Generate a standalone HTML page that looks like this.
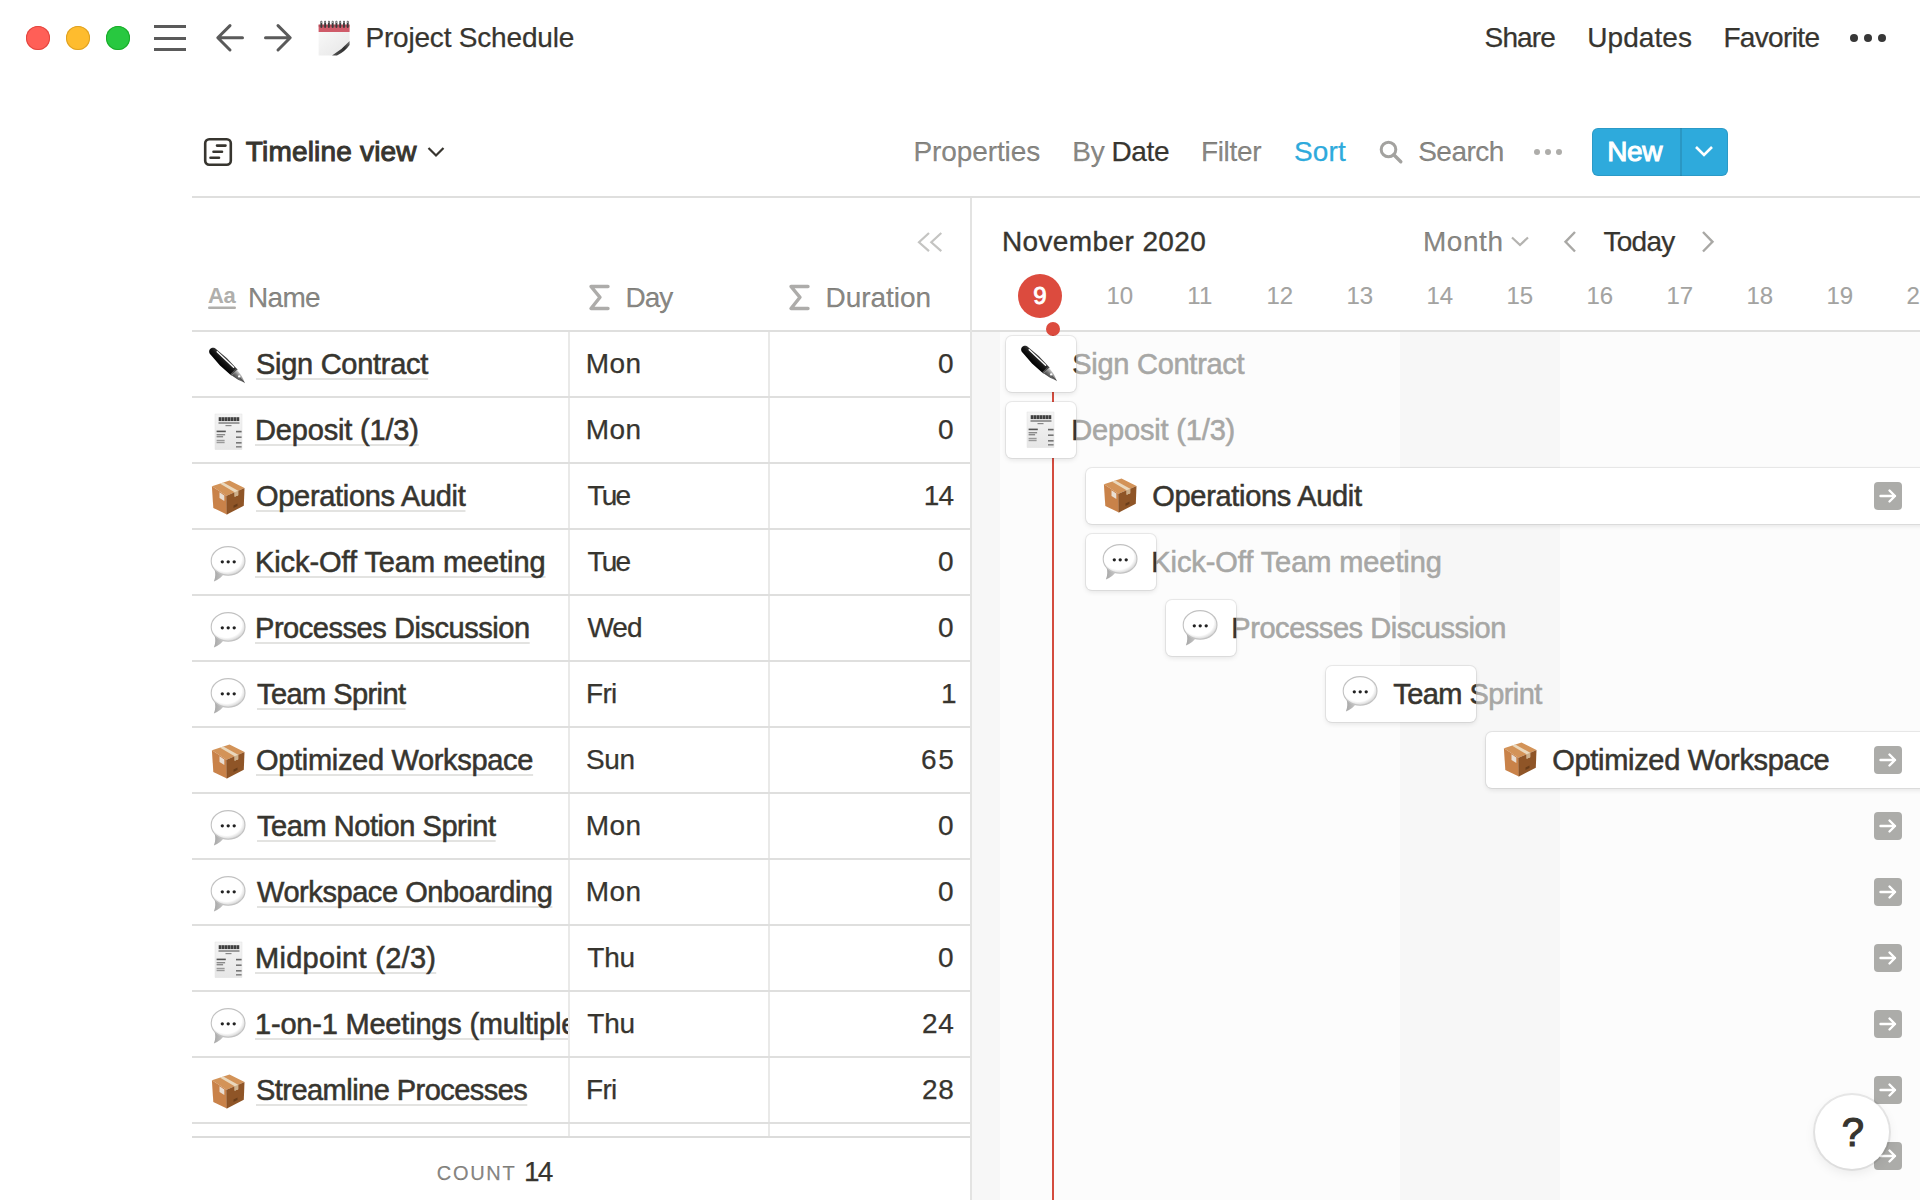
<!DOCTYPE html>
<html><head><meta charset="utf-8"><title>Project Schedule</title>
<style>
html,body{margin:0;padding:0;background:#fff;}
body{width:1920px;height:1200px;overflow:hidden;position:relative;font-family:"Liberation Sans",Arial,sans-serif;color:#37352f;}
.t{position:absolute;white-space:nowrap;-webkit-text-stroke:0.25px currentColor;}
.nm{-webkit-text-stroke:0.55px #37352f;text-decoration:underline;text-decoration-color:#e3e3e1;text-decoration-thickness:2px;text-underline-offset:4px;text-decoration-skip-ink:none;}
.md{-webkit-text-stroke:0.55px currentColor;}
.card{position:absolute;background:#fff;border-radius:6px;overflow:hidden;box-shadow:0 0 0 1px rgba(15,15,15,0.07),0 2px 5px rgba(15,15,15,0.10);}
</style></head><body>
<div style="position:absolute;left:26px;top:26px;width:24px;height:24px;border-radius:50%;background:#ff5f57;box-shadow:inset 0 0 0 1px #e2463f"></div>
<div style="position:absolute;left:66px;top:26px;width:24px;height:24px;border-radius:50%;background:#febc2e;box-shadow:inset 0 0 0 1px #dea123"></div>
<div style="position:absolute;left:106px;top:26px;width:24px;height:24px;border-radius:50%;background:#28c840;box-shadow:inset 0 0 0 1px #1aab29"></div>
<div style="position:absolute;left:154px;top:25px;width:32px;height:3px;background:#5a5a5a"></div>
<div style="position:absolute;left:154px;top:36.5px;width:32px;height:3px;background:#5a5a5a"></div>
<div style="position:absolute;left:154px;top:48px;width:32px;height:3px;background:#5a5a5a"></div>
<svg style="position:absolute;left:214px;top:22px;" width="32" height="32" viewBox="0 0 32 32"><path d="M28.5 15.8 H4.5 M16 3.6 L3.8 15.8 L16 28" fill="none" stroke="#5a5a5a" stroke-width="3" stroke-linecap="round" stroke-linejoin="round"/></svg>
<svg style="position:absolute;left:262px;top:22px;" width="32" height="32" viewBox="0 0 32 32"><path d="M3.5 15.8 H27.5 M16 3.6 L28.2 15.8 L16 28" fill="none" stroke="#5a5a5a" stroke-width="3" stroke-linecap="round" stroke-linejoin="round"/></svg>
<svg style="position:absolute;left:318px;top:20px;" width="33" height="36" viewBox="0 0 33 36"><defs><linearGradient id="cpg" x1="0" y1="0" x2="1" y2="1"><stop offset="0" stop-color="#f8f8f8"/><stop offset="1" stop-color="#e6e6e6"/></linearGradient><linearGradient id="ccg" x1="0" y1="1" x2="1" y2="0"><stop offset="0" stop-color="#555"/><stop offset="0.6" stop-color="#2e2e2e"/><stop offset="1" stop-color="#777"/></linearGradient></defs><path d="M0.6 12 H31.6 V21 Q24 29.5 14 35.6 H0.6 Z" fill="url(#cpg)"/><path d="M14 35.6 Q24 29.5 31.6 21 L31.6 25 Q27 31.5 19 35.6 Z" fill="url(#ccg)"/><rect x="0.6" y="4.6" width="31" height="7.4" fill="#cf5b69"/><rect x="0.6" y="4.6" width="31" height="2.2" fill="#9e3f4a" opacity="0.55"/><rect x="2.40" y="0.8" width="1.9" height="7.2" rx="0.9" fill="#3c3c3c"/><rect x="2.80" y="1.3" width="1.0" height="1.6" rx="0.5" fill="#bbb"/><rect x="6.17" y="0.8" width="1.9" height="7.2" rx="0.9" fill="#3c3c3c"/><rect x="6.57" y="1.3" width="1.0" height="1.6" rx="0.5" fill="#bbb"/><rect x="9.94" y="0.8" width="1.9" height="7.2" rx="0.9" fill="#3c3c3c"/><rect x="10.34" y="1.3" width="1.0" height="1.6" rx="0.5" fill="#bbb"/><rect x="13.71" y="0.8" width="1.9" height="7.2" rx="0.9" fill="#3c3c3c"/><rect x="14.11" y="1.3" width="1.0" height="1.6" rx="0.5" fill="#bbb"/><rect x="17.48" y="0.8" width="1.9" height="7.2" rx="0.9" fill="#3c3c3c"/><rect x="17.88" y="1.3" width="1.0" height="1.6" rx="0.5" fill="#bbb"/><rect x="21.25" y="0.8" width="1.9" height="7.2" rx="0.9" fill="#3c3c3c"/><rect x="21.65" y="1.3" width="1.0" height="1.6" rx="0.5" fill="#bbb"/><rect x="25.02" y="0.8" width="1.9" height="7.2" rx="0.9" fill="#3c3c3c"/><rect x="25.42" y="1.3" width="1.0" height="1.6" rx="0.5" fill="#bbb"/><rect x="28.79" y="0.8" width="1.9" height="7.2" rx="0.9" fill="#3c3c3c"/><rect x="29.19" y="1.3" width="1.0" height="1.6" rx="0.5" fill="#bbb"/></svg>
<div class="t " style="left:365.40px;top:24.20px;font-size:28px;line-height:28px;color:#37352f;font-weight:400;letter-spacing:-0.187px;">Project Schedule</div>
<div class="t " style="left:1484.60px;top:24.20px;font-size:28px;line-height:28px;color:#37352f;font-weight:400;letter-spacing:-0.861px;">Share</div>
<div class="t " style="left:1587.20px;top:24.20px;font-size:28px;line-height:28px;color:#37352f;font-weight:400;letter-spacing:0.085px;">Updates</div>
<div class="t " style="left:1723.40px;top:24.20px;font-size:28px;line-height:28px;color:#37352f;font-weight:400;letter-spacing:-0.653px;">Favorite</div>
<div style="position:absolute;left:1850.1px;top:33.5px;width:8.4px;height:8.4px;border-radius:50%;background:#373737"></div>
<div style="position:absolute;left:1863.8px;top:33.5px;width:8.4px;height:8.4px;border-radius:50%;background:#373737"></div>
<div style="position:absolute;left:1877.7px;top:33.5px;width:8.4px;height:8.4px;border-radius:50%;background:#373737"></div>
<svg style="position:absolute;left:203px;top:137px;" width="30" height="30" viewBox="0 0 30 30"><rect x="2.2" y="2.2" width="25.6" height="25.6" rx="4" fill="none" stroke="#37352f" stroke-width="2.6"/><path d="M14 8.6 H22.5 M10.5 14.8 H19 M7.5 20.8 H16" stroke="#37352f" stroke-width="2.6" stroke-linecap="round"/></svg>
<div class="t " style="left:245.80px;top:137.90px;font-size:28px;line-height:28px;color:#37352f;font-weight:400;letter-spacing:0.180px;-webkit-text-stroke:1.0px #37352f">Timeline view</div>
<svg style="position:absolute;left:426px;top:145px;" width="20" height="14" viewBox="0 0 20 14"><path d="M2.5 3 L10 10.5 L17.5 3" fill="none" stroke="#37352f" stroke-width="2.2"/></svg>
<div class="t " style="left:913.50px;top:137.90px;font-size:28px;line-height:28px;color:rgba(55,53,47,0.6);font-weight:400;letter-spacing:-0.101px;">Properties</div>
<div class="t " style="left:1072.20px;top:137.90px;font-size:28px;line-height:28px;color:rgba(55,53,47,0.6);font-weight:400;letter-spacing:0.000px;">By</div>
<div class="t " style="left:1111.50px;top:137.90px;font-size:28px;line-height:28px;color:#37352f;font-weight:400;letter-spacing:-0.357px;">Date</div>
<div class="t " style="left:1200.90px;top:137.90px;font-size:28px;line-height:28px;color:rgba(55,53,47,0.6);font-weight:400;letter-spacing:-0.319px;">Filter</div>
<div class="t " style="left:1293.90px;top:137.90px;font-size:28px;line-height:28px;color:#2eaadc;font-weight:400;letter-spacing:0.176px;">Sort</div>
<svg style="position:absolute;left:1378px;top:139px;" width="27" height="27" viewBox="0 0 27 27"><circle cx="10.5" cy="10.5" r="7.3" fill="none" stroke="#a3a29f" stroke-width="3"/><path d="M15.8 15.8 L22.8 22.8" stroke="#a3a29f" stroke-width="3.4" stroke-linecap="round"/></svg>
<div class="t " style="left:1418.20px;top:137.90px;font-size:28px;line-height:28px;color:rgba(55,53,47,0.6);font-weight:400;letter-spacing:-0.529px;">Search</div>
<div style="position:absolute;left:1534px;top:148.7px;width:6px;height:6px;border-radius:50%;background:#aeadaa"></div>
<div style="position:absolute;left:1545px;top:148.7px;width:6px;height:6px;border-radius:50%;background:#aeadaa"></div>
<div style="position:absolute;left:1556px;top:148.7px;width:6px;height:6px;border-radius:50%;background:#aeadaa"></div>
<div style="position:absolute;left:1592px;top:128px;width:136px;height:48px;border-radius:6px;background:#2eaadc;box-shadow:inset 0 0 0 1px rgba(15,15,15,0.1)"></div>
<div style="position:absolute;left:1680px;top:128px;width:2px;height:48px;background:rgba(15,15,15,0.12)"></div>
<div class="t " style="left:1607.20px;top:138.30px;font-size:28px;line-height:28px;color:#fff;font-weight:400;letter-spacing:-0.346px;-webkit-text-stroke:1.0px #fff">New</div>
<svg style="position:absolute;left:1693px;top:143px;" width="22" height="16" viewBox="0 0 22 16"><path d="M3 4 L11 12 L19 4" fill="none" stroke="#fff" stroke-width="2.6"/></svg>
<div style="position:absolute;left:192px;top:196px;width:1728px;height:2px;background:#dfdfde"></div>
<svg style="position:absolute;left:914px;top:229px;" width="32" height="26" viewBox="0 0 32 26"><path d="M15 4 L5 13.3 L15 22.1 M27.3 4 L17.3 13.3 L27.3 22.1" fill="none" stroke="#c4c4c2" stroke-width="2.2"/></svg>
<svg style="position:absolute;left:206px;top:284px;" width="32" height="28" viewBox="0 0 32 28"><text x="2" y="18.5" font-family="Liberation Sans" font-size="22" font-weight="700" fill="#b0afac" letter-spacing="-0.3">Aa</text><rect x="2" y="22.5" width="28" height="2.4" rx="1.2" fill="#b0afac"/></svg>
<div class="t " style="left:248.00px;top:284.20px;font-size:28px;line-height:28px;color:rgba(55,53,47,0.6);font-weight:400;letter-spacing:-0.706px;">Name</div>
<svg style="position:absolute;left:588px;top:283px;" width="23" height="30" viewBox="0 0 23 30"><path d="M20 3.5 H3 L12 14.3 L3 25.5 H20" fill="none" stroke="#adacaa" stroke-width="3.4" stroke-linejoin="round" stroke-linecap="round"/></svg>
<svg style="position:absolute;left:788px;top:283px;" width="23" height="30" viewBox="0 0 23 30"><path d="M20 3.5 H3 L12 14.3 L3 25.5 H20" fill="none" stroke="#adacaa" stroke-width="3.4" stroke-linejoin="round" stroke-linecap="round"/></svg>
<div class="t " style="left:625.40px;top:284.20px;font-size:28px;line-height:28px;color:rgba(55,53,47,0.6);font-weight:400;letter-spacing:-0.946px;">Day</div>
<div class="t " style="left:825.50px;top:284.20px;font-size:28px;line-height:28px;color:rgba(55,53,47,0.6);font-weight:400;letter-spacing:-0.023px;">Duration</div>
<div style="position:absolute;left:192px;top:330px;width:1728px;height:2px;background:#dfdfde"></div>
<div style="position:absolute;left:568px;top:332px;width:2px;height:804px;background:#e9e9e8"></div>
<div style="position:absolute;left:768px;top:332px;width:2px;height:804px;background:#e9e9e8"></div>
<svg style="position:absolute;left:208px;top:347px;overflow:visible;" width="36" height="36" viewBox="0 0 36 36"><defs><linearGradient id="pg1" x1="0" y1="0" x2="0" y2="1"><stop offset="0" stop-color="#444"/><stop offset="0.45" stop-color="#151515"/><stop offset="1" stop-color="#000"/></linearGradient><linearGradient id="ng1" x1="0" y1="0" x2="0" y2="1"><stop offset="0" stop-color="#d8d8d8"/><stop offset="0.5" stop-color="#7a7a7a"/><stop offset="1" stop-color="#3a3a3a"/></linearGradient></defs><g transform="translate(5.5 5) rotate(44.5)"><path d="M0 -4 C-3.2 -4 -4.5 -1.8 -4.5 0 C-4.5 1.8 -3.2 4 0 4 L14 5 L28 4.4 L28 -4.4 L14 -5 Z" fill="url(#pg1)"/><path d="M2.5 -2.7 L25 -3.2" stroke="#fff" stroke-width="1.4" stroke-linecap="round"/><rect x="27.5" y="-4.4" width="2" height="8.8" fill="#4a4a4a"/><path d="M29.5 -3.9 L37 -2.6 L44 0 L37 2.6 L29.5 3.9 Z" fill="url(#ng1)"/><circle cx="35.5" cy="-0.6" r="1.2" fill="#fff"/><path d="M36.5 0.3 L43.5 0.1" stroke="#222" stroke-width="0.6"/></g></svg>
<div style="position:absolute;left:192px;top:332px;width:376px;height:64px;overflow:hidden"><div class="t nm" style="left:64.00px;top:17.95px;font-size:29px;line-height:29px;color:#37352f;font-weight:400;letter-spacing:0.000px;letter-spacing:-0.279px">Sign Contract</div></div>
<div class="t " style="left:585.70px;top:350.30px;font-size:28px;line-height:28px;color:#37352f;font-weight:400;letter-spacing:0.502px;">Mon</div>
<div class="t " style="left:938.00px;top:350.30px;font-size:28px;line-height:28px;color:#37352f;font-weight:400;letter-spacing:0.000px;">0</div>
<div style="position:absolute;left:192px;top:396px;width:778px;height:2px;background:#dfdfde"></div>
<svg style="position:absolute;left:208px;top:413px;overflow:visible;" width="36" height="36" viewBox="0 0 36 36"><defs><linearGradient id="rg2" x1="0" y1="0" x2="0" y2="1"><stop offset="0" stop-color="#f4f4f4"/><stop offset="1" stop-color="#e6e6e6"/></linearGradient></defs><rect x="7" y="1" width="27" height="35.6" fill="url(#rg2)" stroke="#e2e2e2" stroke-width="0.5"/><rect x="10.70" y="4.2" width="2.75" height="3.9" fill="#3f3f3f"/><rect x="13.67" y="4.2" width="2.75" height="3.9" fill="#3f3f3f"/><rect x="16.64" y="4.2" width="2.75" height="3.9" fill="#3f3f3f"/><rect x="19.61" y="4.2" width="2.75" height="3.9" fill="#3f3f3f"/><rect x="22.58" y="4.2" width="2.75" height="3.9" fill="#3f3f3f"/><rect x="25.55" y="4.2" width="2.75" height="3.9" fill="#3f3f3f"/><rect x="28.52" y="4.2" width="2.75" height="3.9" fill="#3f3f3f"/><rect x="10.5" y="9.3" width="21" height="1.4" fill="#777"/><rect x="17.5" y="12" width="6" height="1.2" fill="#888"/><rect x="8.6" y="17.6" width="9.2" height="1.6" fill="#555"/><rect x="28" y="17.8" width="5.6" height="1.6" fill="#666"/><rect x="8.6" y="21" width="8.5" height="1.4" fill="#8a8a8a"/><rect x="8.6" y="23" width="6.5" height="1.4" fill="#8a8a8a"/><rect x="28" y="23.4" width="5.6" height="1.6" fill="#777"/><rect x="8.6" y="26.8" width="8" height="1.4" fill="#999"/><rect x="8.6" y="28.8" width="8" height="1.4" fill="#999"/><rect x="28" y="29" width="5.6" height="1.6" fill="#777"/><rect x="28" y="33" width="5.6" height="1.6" fill="#888"/></svg>
<div style="position:absolute;left:192px;top:398px;width:376px;height:64px;overflow:hidden"><div class="t nm" style="left:63.00px;top:17.95px;font-size:29px;line-height:29px;color:#37352f;font-weight:400;letter-spacing:0.000px;letter-spacing:-0.171px">Deposit (1/3)</div></div>
<div class="t " style="left:585.70px;top:416.30px;font-size:28px;line-height:28px;color:#37352f;font-weight:400;letter-spacing:0.502px;">Mon</div>
<div class="t " style="left:938.00px;top:416.30px;font-size:28px;line-height:28px;color:#37352f;font-weight:400;letter-spacing:0.000px;">0</div>
<div style="position:absolute;left:192px;top:462px;width:778px;height:2px;background:#dfdfde"></div>
<svg style="position:absolute;left:208px;top:479px;overflow:visible;" width="36" height="36" viewBox="0 0 36 36"><path d="M21.5 1.4 L36.5 9.1 L18.5 16.8 L3.9 7.3 Z" fill="#d39358"/><path d="M3.9 7.3 L18.5 16.8 L18.9 35.5 L5.3 28.9 Z" fill="#c98249"/><path d="M36.5 9.1 L18.5 16.8 L18.9 35.5 L35.8 26.7 Z" fill="#8f5527"/><path d="M11.8 4.6 L15.3 3.5 L30.2 11.8 L30.2 16.2 L26.6 17.7 L26.6 13.3 Z" fill="#ead8bd"/><path d="M26.6 13.3 L30.2 11.8 L30.2 16.2 L26.6 17.7 Z" fill="#cdb08c"/><path d="M11.5 13.3 L16.3 16.4 L16.3 22 L11.5 18.9 Z" fill="#ece8e2" opacity="0.9"/><path d="M25.5 26.5 L29.5 24.6 L29.5 27 L25.5 28.9 Z" fill="#5e3516" opacity="0.75"/><path d="M18.5 16.8 L18.9 35.5" stroke="#7a461e" stroke-width="0.6" opacity="0.6"/></svg>
<div style="position:absolute;left:192px;top:464px;width:376px;height:64px;overflow:hidden"><div class="t nm" style="left:64.00px;top:17.95px;font-size:29px;line-height:29px;color:#37352f;font-weight:400;letter-spacing:0.000px;letter-spacing:-0.310px">Operations Audit</div></div>
<div class="t " style="left:587.40px;top:482.30px;font-size:28px;line-height:28px;color:#37352f;font-weight:400;letter-spacing:-1.718px;">Tue</div>
<div class="t " style="left:923.75px;top:482.30px;font-size:28px;line-height:28px;color:#37352f;font-weight:400;letter-spacing:-0.822px;">14</div>
<div style="position:absolute;left:192px;top:528px;width:778px;height:2px;background:#dfdfde"></div>
<svg style="position:absolute;left:208px;top:545px;overflow:visible;" width="36" height="36" viewBox="0 0 36 36"><defs><radialGradient id="bg4" cx="0.45" cy="0.42" r="0.6"><stop offset="0.75" stop-color="#ffffff"/><stop offset="1" stop-color="#d0d0d0"/></radialGradient><linearGradient id="tg4" x1="0" y1="0" x2="1" y2="0"><stop offset="0" stop-color="#a6a6a6"/><stop offset="1" stop-color="#c8c8c8"/></linearGradient></defs><path d="M6.2 23.5 Q8.5 30 5.9 36.6 Q12.5 34 16 28.8 Z" fill="url(#tg4)"/><ellipse cx="20.1" cy="15.9" rx="16.9" ry="14.3" fill="url(#bg4)" stroke="#c2c2c2" stroke-width="1.1"/><circle cx="14.3" cy="16.8" r="1.65" fill="#222"/><circle cx="20.2" cy="16.8" r="1.65" fill="#222"/><circle cx="26.2" cy="16.8" r="1.65" fill="#222"/></svg>
<div style="position:absolute;left:192px;top:530px;width:376px;height:64px;overflow:hidden"><div class="t nm" style="left:63.00px;top:17.95px;font-size:29px;line-height:29px;color:#37352f;font-weight:400;letter-spacing:0.000px;letter-spacing:-0.083px">Kick-Off Team meeting</div></div>
<div class="t " style="left:587.40px;top:548.30px;font-size:28px;line-height:28px;color:#37352f;font-weight:400;letter-spacing:-1.718px;">Tue</div>
<div class="t " style="left:938.00px;top:548.30px;font-size:28px;line-height:28px;color:#37352f;font-weight:400;letter-spacing:0.000px;">0</div>
<div style="position:absolute;left:192px;top:594px;width:778px;height:2px;background:#dfdfde"></div>
<svg style="position:absolute;left:208px;top:611px;overflow:visible;" width="36" height="36" viewBox="0 0 36 36"><defs><radialGradient id="bg5" cx="0.45" cy="0.42" r="0.6"><stop offset="0.75" stop-color="#ffffff"/><stop offset="1" stop-color="#d0d0d0"/></radialGradient><linearGradient id="tg5" x1="0" y1="0" x2="1" y2="0"><stop offset="0" stop-color="#a6a6a6"/><stop offset="1" stop-color="#c8c8c8"/></linearGradient></defs><path d="M6.2 23.5 Q8.5 30 5.9 36.6 Q12.5 34 16 28.8 Z" fill="url(#tg5)"/><ellipse cx="20.1" cy="15.9" rx="16.9" ry="14.3" fill="url(#bg5)" stroke="#c2c2c2" stroke-width="1.1"/><circle cx="14.3" cy="16.8" r="1.65" fill="#222"/><circle cx="20.2" cy="16.8" r="1.65" fill="#222"/><circle cx="26.2" cy="16.8" r="1.65" fill="#222"/></svg>
<div style="position:absolute;left:192px;top:596px;width:376px;height:64px;overflow:hidden"><div class="t nm" style="left:63.00px;top:17.95px;font-size:29px;line-height:29px;color:#37352f;font-weight:400;letter-spacing:0.000px;letter-spacing:-0.449px">Processes Discussion</div></div>
<div class="t " style="left:587.40px;top:614.30px;font-size:28px;line-height:28px;color:#37352f;font-weight:400;letter-spacing:-0.947px;">Wed</div>
<div class="t " style="left:938.00px;top:614.30px;font-size:28px;line-height:28px;color:#37352f;font-weight:400;letter-spacing:0.000px;">0</div>
<div style="position:absolute;left:192px;top:660px;width:778px;height:2px;background:#dfdfde"></div>
<svg style="position:absolute;left:208px;top:677px;overflow:visible;" width="36" height="36" viewBox="0 0 36 36"><defs><radialGradient id="bg6" cx="0.45" cy="0.42" r="0.6"><stop offset="0.75" stop-color="#ffffff"/><stop offset="1" stop-color="#d0d0d0"/></radialGradient><linearGradient id="tg6" x1="0" y1="0" x2="1" y2="0"><stop offset="0" stop-color="#a6a6a6"/><stop offset="1" stop-color="#c8c8c8"/></linearGradient></defs><path d="M6.2 23.5 Q8.5 30 5.9 36.6 Q12.5 34 16 28.8 Z" fill="url(#tg6)"/><ellipse cx="20.1" cy="15.9" rx="16.9" ry="14.3" fill="url(#bg6)" stroke="#c2c2c2" stroke-width="1.1"/><circle cx="14.3" cy="16.8" r="1.65" fill="#222"/><circle cx="20.2" cy="16.8" r="1.65" fill="#222"/><circle cx="26.2" cy="16.8" r="1.65" fill="#222"/></svg>
<div style="position:absolute;left:192px;top:662px;width:376px;height:64px;overflow:hidden"><div class="t nm" style="left:65.00px;top:17.95px;font-size:29px;line-height:29px;color:#37352f;font-weight:400;letter-spacing:0.000px;letter-spacing:-0.567px">Team Sprint</div></div>
<div class="t " style="left:586.00px;top:680.30px;font-size:28px;line-height:28px;color:#37352f;font-weight:400;letter-spacing:-0.714px;">Fri</div>
<div class="t " style="left:940.90px;top:680.30px;font-size:28px;line-height:28px;color:#37352f;font-weight:400;letter-spacing:0.000px;">1</div>
<div style="position:absolute;left:192px;top:726px;width:778px;height:2px;background:#dfdfde"></div>
<svg style="position:absolute;left:208px;top:743px;overflow:visible;" width="36" height="36" viewBox="0 0 36 36"><path d="M21.5 1.4 L36.5 9.1 L18.5 16.8 L3.9 7.3 Z" fill="#d39358"/><path d="M3.9 7.3 L18.5 16.8 L18.9 35.5 L5.3 28.9 Z" fill="#c98249"/><path d="M36.5 9.1 L18.5 16.8 L18.9 35.5 L35.8 26.7 Z" fill="#8f5527"/><path d="M11.8 4.6 L15.3 3.5 L30.2 11.8 L30.2 16.2 L26.6 17.7 L26.6 13.3 Z" fill="#ead8bd"/><path d="M26.6 13.3 L30.2 11.8 L30.2 16.2 L26.6 17.7 Z" fill="#cdb08c"/><path d="M11.5 13.3 L16.3 16.4 L16.3 22 L11.5 18.9 Z" fill="#ece8e2" opacity="0.9"/><path d="M25.5 26.5 L29.5 24.6 L29.5 27 L25.5 28.9 Z" fill="#5e3516" opacity="0.75"/><path d="M18.5 16.8 L18.9 35.5" stroke="#7a461e" stroke-width="0.6" opacity="0.6"/></svg>
<div style="position:absolute;left:192px;top:728px;width:376px;height:64px;overflow:hidden"><div class="t nm" style="left:64.00px;top:17.95px;font-size:29px;line-height:29px;color:#37352f;font-weight:400;letter-spacing:0.000px;letter-spacing:-0.316px">Optimized Workspace</div></div>
<div class="t " style="left:585.90px;top:746.30px;font-size:28px;line-height:28px;color:#37352f;font-weight:400;letter-spacing:-0.274px;">Sun</div>
<div class="t " style="left:921.00px;top:746.30px;font-size:28px;line-height:28px;color:#37352f;font-weight:400;letter-spacing:1.628px;">65</div>
<div style="position:absolute;left:192px;top:792px;width:778px;height:2px;background:#dfdfde"></div>
<svg style="position:absolute;left:208px;top:809px;overflow:visible;" width="36" height="36" viewBox="0 0 36 36"><defs><radialGradient id="bg8" cx="0.45" cy="0.42" r="0.6"><stop offset="0.75" stop-color="#ffffff"/><stop offset="1" stop-color="#d0d0d0"/></radialGradient><linearGradient id="tg8" x1="0" y1="0" x2="1" y2="0"><stop offset="0" stop-color="#a6a6a6"/><stop offset="1" stop-color="#c8c8c8"/></linearGradient></defs><path d="M6.2 23.5 Q8.5 30 5.9 36.6 Q12.5 34 16 28.8 Z" fill="url(#tg8)"/><ellipse cx="20.1" cy="15.9" rx="16.9" ry="14.3" fill="url(#bg8)" stroke="#c2c2c2" stroke-width="1.1"/><circle cx="14.3" cy="16.8" r="1.65" fill="#222"/><circle cx="20.2" cy="16.8" r="1.65" fill="#222"/><circle cx="26.2" cy="16.8" r="1.65" fill="#222"/></svg>
<div style="position:absolute;left:192px;top:794px;width:376px;height:64px;overflow:hidden"><div class="t nm" style="left:65.00px;top:17.95px;font-size:29px;line-height:29px;color:#37352f;font-weight:400;letter-spacing:0.000px;letter-spacing:-0.444px">Team Notion Sprint</div></div>
<div class="t " style="left:585.70px;top:812.30px;font-size:28px;line-height:28px;color:#37352f;font-weight:400;letter-spacing:0.502px;">Mon</div>
<div class="t " style="left:938.00px;top:812.30px;font-size:28px;line-height:28px;color:#37352f;font-weight:400;letter-spacing:0.000px;">0</div>
<div style="position:absolute;left:192px;top:858px;width:778px;height:2px;background:#dfdfde"></div>
<svg style="position:absolute;left:208px;top:875px;overflow:visible;" width="36" height="36" viewBox="0 0 36 36"><defs><radialGradient id="bg9" cx="0.45" cy="0.42" r="0.6"><stop offset="0.75" stop-color="#ffffff"/><stop offset="1" stop-color="#d0d0d0"/></radialGradient><linearGradient id="tg9" x1="0" y1="0" x2="1" y2="0"><stop offset="0" stop-color="#a6a6a6"/><stop offset="1" stop-color="#c8c8c8"/></linearGradient></defs><path d="M6.2 23.5 Q8.5 30 5.9 36.6 Q12.5 34 16 28.8 Z" fill="url(#tg9)"/><ellipse cx="20.1" cy="15.9" rx="16.9" ry="14.3" fill="url(#bg9)" stroke="#c2c2c2" stroke-width="1.1"/><circle cx="14.3" cy="16.8" r="1.65" fill="#222"/><circle cx="20.2" cy="16.8" r="1.65" fill="#222"/><circle cx="26.2" cy="16.8" r="1.65" fill="#222"/></svg>
<div style="position:absolute;left:192px;top:860px;width:376px;height:64px;overflow:hidden"><div class="t nm" style="left:65.00px;top:17.95px;font-size:29px;line-height:29px;color:#37352f;font-weight:400;letter-spacing:0.000px;letter-spacing:-0.437px">Workspace Onboarding</div></div>
<div class="t " style="left:585.70px;top:878.30px;font-size:28px;line-height:28px;color:#37352f;font-weight:400;letter-spacing:0.502px;">Mon</div>
<div class="t " style="left:938.00px;top:878.30px;font-size:28px;line-height:28px;color:#37352f;font-weight:400;letter-spacing:0.000px;">0</div>
<div style="position:absolute;left:192px;top:924px;width:778px;height:2px;background:#dfdfde"></div>
<svg style="position:absolute;left:208px;top:941px;overflow:visible;" width="36" height="36" viewBox="0 0 36 36"><defs><linearGradient id="rg10" x1="0" y1="0" x2="0" y2="1"><stop offset="0" stop-color="#f4f4f4"/><stop offset="1" stop-color="#e6e6e6"/></linearGradient></defs><rect x="7" y="1" width="27" height="35.6" fill="url(#rg10)" stroke="#e2e2e2" stroke-width="0.5"/><rect x="10.70" y="4.2" width="2.75" height="3.9" fill="#3f3f3f"/><rect x="13.67" y="4.2" width="2.75" height="3.9" fill="#3f3f3f"/><rect x="16.64" y="4.2" width="2.75" height="3.9" fill="#3f3f3f"/><rect x="19.61" y="4.2" width="2.75" height="3.9" fill="#3f3f3f"/><rect x="22.58" y="4.2" width="2.75" height="3.9" fill="#3f3f3f"/><rect x="25.55" y="4.2" width="2.75" height="3.9" fill="#3f3f3f"/><rect x="28.52" y="4.2" width="2.75" height="3.9" fill="#3f3f3f"/><rect x="10.5" y="9.3" width="21" height="1.4" fill="#777"/><rect x="17.5" y="12" width="6" height="1.2" fill="#888"/><rect x="8.6" y="17.6" width="9.2" height="1.6" fill="#555"/><rect x="28" y="17.8" width="5.6" height="1.6" fill="#666"/><rect x="8.6" y="21" width="8.5" height="1.4" fill="#8a8a8a"/><rect x="8.6" y="23" width="6.5" height="1.4" fill="#8a8a8a"/><rect x="28" y="23.4" width="5.6" height="1.6" fill="#777"/><rect x="8.6" y="26.8" width="8" height="1.4" fill="#999"/><rect x="8.6" y="28.8" width="8" height="1.4" fill="#999"/><rect x="28" y="29" width="5.6" height="1.6" fill="#777"/><rect x="28" y="33" width="5.6" height="1.6" fill="#888"/></svg>
<div style="position:absolute;left:192px;top:926px;width:376px;height:64px;overflow:hidden"><div class="t nm" style="left:63.00px;top:17.95px;font-size:29px;line-height:29px;color:#37352f;font-weight:400;letter-spacing:0.000px;letter-spacing:0.281px">Midpoint (2/3)</div></div>
<div class="t " style="left:587.30px;top:944.30px;font-size:28px;line-height:28px;color:#37352f;font-weight:400;letter-spacing:-0.188px;">Thu</div>
<div class="t " style="left:938.00px;top:944.30px;font-size:28px;line-height:28px;color:#37352f;font-weight:400;letter-spacing:0.000px;">0</div>
<div style="position:absolute;left:192px;top:990px;width:778px;height:2px;background:#dfdfde"></div>
<svg style="position:absolute;left:208px;top:1007px;overflow:visible;" width="36" height="36" viewBox="0 0 36 36"><defs><radialGradient id="bg11" cx="0.45" cy="0.42" r="0.6"><stop offset="0.75" stop-color="#ffffff"/><stop offset="1" stop-color="#d0d0d0"/></radialGradient><linearGradient id="tg11" x1="0" y1="0" x2="1" y2="0"><stop offset="0" stop-color="#a6a6a6"/><stop offset="1" stop-color="#c8c8c8"/></linearGradient></defs><path d="M6.2 23.5 Q8.5 30 5.9 36.6 Q12.5 34 16 28.8 Z" fill="url(#tg11)"/><ellipse cx="20.1" cy="15.9" rx="16.9" ry="14.3" fill="url(#bg11)" stroke="#c2c2c2" stroke-width="1.1"/><circle cx="14.3" cy="16.8" r="1.65" fill="#222"/><circle cx="20.2" cy="16.8" r="1.65" fill="#222"/><circle cx="26.2" cy="16.8" r="1.65" fill="#222"/></svg>
<div style="position:absolute;left:192px;top:992px;width:376px;height:64px;overflow:hidden"><div class="t nm" style="left:63.00px;top:17.95px;font-size:29px;line-height:29px;color:#37352f;font-weight:400;letter-spacing:0.000px;letter-spacing:-0.200px">1-on-1 Meetings (multiple)</div></div>
<div class="t " style="left:587.30px;top:1010.30px;font-size:28px;line-height:28px;color:#37352f;font-weight:400;letter-spacing:-0.188px;">Thu</div>
<div class="t " style="left:921.90px;top:1010.30px;font-size:28px;line-height:28px;color:#37352f;font-weight:400;letter-spacing:0.728px;">24</div>
<div style="position:absolute;left:192px;top:1056px;width:778px;height:2px;background:#dfdfde"></div>
<svg style="position:absolute;left:208px;top:1073px;overflow:visible;" width="36" height="36" viewBox="0 0 36 36"><path d="M21.5 1.4 L36.5 9.1 L18.5 16.8 L3.9 7.3 Z" fill="#d39358"/><path d="M3.9 7.3 L18.5 16.8 L18.9 35.5 L5.3 28.9 Z" fill="#c98249"/><path d="M36.5 9.1 L18.5 16.8 L18.9 35.5 L35.8 26.7 Z" fill="#8f5527"/><path d="M11.8 4.6 L15.3 3.5 L30.2 11.8 L30.2 16.2 L26.6 17.7 L26.6 13.3 Z" fill="#ead8bd"/><path d="M26.6 13.3 L30.2 11.8 L30.2 16.2 L26.6 17.7 Z" fill="#cdb08c"/><path d="M11.5 13.3 L16.3 16.4 L16.3 22 L11.5 18.9 Z" fill="#ece8e2" opacity="0.9"/><path d="M25.5 26.5 L29.5 24.6 L29.5 27 L25.5 28.9 Z" fill="#5e3516" opacity="0.75"/><path d="M18.5 16.8 L18.9 35.5" stroke="#7a461e" stroke-width="0.6" opacity="0.6"/></svg>
<div style="position:absolute;left:192px;top:1058px;width:376px;height:64px;overflow:hidden"><div class="t nm" style="left:64.00px;top:17.95px;font-size:29px;line-height:29px;color:#37352f;font-weight:400;letter-spacing:0.000px;letter-spacing:-0.540px">Streamline Processes</div></div>
<div class="t " style="left:586.00px;top:1076.30px;font-size:28px;line-height:28px;color:#37352f;font-weight:400;letter-spacing:-0.714px;">Fri</div>
<div class="t " style="left:921.90px;top:1076.30px;font-size:28px;line-height:28px;color:#37352f;font-weight:400;letter-spacing:0.728px;">28</div>
<div style="position:absolute;left:192px;top:1122px;width:778px;height:2px;background:#dfdfde"></div>
<div style="position:absolute;left:192px;top:1136px;width:778px;height:2px;background:#dcdcdb"></div>
<div class="t " style="left:436.80px;top:1162.87px;font-size:20px;line-height:20px;color:rgba(55,53,47,0.6);font-weight:400;letter-spacing:1.703px;">COUNT</div>
<div class="t " style="left:523.90px;top:1158.20px;font-size:28px;line-height:28px;color:#37352f;font-weight:400;letter-spacing:-1.672px;">14</div>
<div style="position:absolute;left:970px;top:198px;width:2px;height:1002px;background:#e3e3e2"></div>
<div style="position:absolute;left:972px;top:332px;width:948px;height:868px;background:#fcfcfc"></div>
<div style="position:absolute;left:972px;top:332px;width:28px;height:868px;background:#f7f7f7"></div>
<div style="position:absolute;left:1400px;top:332px;width:160px;height:868px;background:#f7f7f7"></div>
<div class="t " style="left:1001.90px;top:228.20px;font-size:28px;line-height:28px;color:#37352f;font-weight:400;letter-spacing:0.395px;-webkit-text-stroke:0.35px #37352f">November 2020</div>
<div class="t " style="left:1423.00px;top:227.80px;font-size:28px;line-height:28px;color:rgba(55,53,47,0.6);font-weight:400;letter-spacing:0.538px;">Month</div>
<svg style="position:absolute;left:1509px;top:234px;" width="22" height="14" viewBox="0 0 22 14"><path d="M3 3.5 L11 11 L19 3.5" fill="none" stroke="#b4b3b0" stroke-width="2.2"/></svg>
<svg style="position:absolute;left:1561px;top:229px;" width="18" height="26" viewBox="0 0 18 26"><path d="M14 3 L4.5 12.8 L14 22.5" fill="none" stroke="#a9a8a5" stroke-width="2.4"/></svg>
<div class="t " style="left:1603.60px;top:227.80px;font-size:28px;line-height:28px;color:#37352f;font-weight:400;letter-spacing:-0.779px;">Today</div>
<svg style="position:absolute;left:1699px;top:229px;" width="18" height="26" viewBox="0 0 18 26"><path d="M4 3 L13.5 12.8 L4 22.5" fill="none" stroke="#a9a8a5" stroke-width="2.4"/></svg>
<div style="position:absolute;left:1018px;top:274px;width:44px;height:44px;border-radius:50%;background:#dc4b3e"></div>
<div class="t " style="left:1033.25px;top:283.68px;font-size:24px;line-height:24px;color:#fff;font-weight:400;letter-spacing:0.000px;-webkit-text-stroke:0.9px #fff">9</div>
<div class="t " style="left:1106.43px;top:283.68px;font-size:24px;line-height:24px;color:#a3a3a1;font-weight:400;letter-spacing:0.000px;-webkit-text-stroke:0.1px #a3a3a1">10</div>
<div class="t " style="left:1187.32px;top:283.68px;font-size:24px;line-height:24px;color:#a3a3a1;font-weight:400;letter-spacing:0.000px;-webkit-text-stroke:0.1px #a3a3a1">11</div>
<div class="t " style="left:1266.43px;top:283.68px;font-size:24px;line-height:24px;color:#a3a3a1;font-weight:400;letter-spacing:0.000px;-webkit-text-stroke:0.1px #a3a3a1">12</div>
<div class="t " style="left:1346.43px;top:283.68px;font-size:24px;line-height:24px;color:#a3a3a1;font-weight:400;letter-spacing:0.000px;-webkit-text-stroke:0.1px #a3a3a1">13</div>
<div class="t " style="left:1426.43px;top:283.68px;font-size:24px;line-height:24px;color:#a3a3a1;font-weight:400;letter-spacing:0.000px;-webkit-text-stroke:0.1px #a3a3a1">14</div>
<div class="t " style="left:1506.43px;top:283.68px;font-size:24px;line-height:24px;color:#a3a3a1;font-weight:400;letter-spacing:0.000px;-webkit-text-stroke:0.1px #a3a3a1">15</div>
<div class="t " style="left:1586.43px;top:283.68px;font-size:24px;line-height:24px;color:#a3a3a1;font-weight:400;letter-spacing:0.000px;-webkit-text-stroke:0.1px #a3a3a1">16</div>
<div class="t " style="left:1666.43px;top:283.68px;font-size:24px;line-height:24px;color:#a3a3a1;font-weight:400;letter-spacing:0.000px;-webkit-text-stroke:0.1px #a3a3a1">17</div>
<div class="t " style="left:1746.43px;top:283.68px;font-size:24px;line-height:24px;color:#a3a3a1;font-weight:400;letter-spacing:0.000px;-webkit-text-stroke:0.1px #a3a3a1">18</div>
<div class="t " style="left:1826.43px;top:283.68px;font-size:24px;line-height:24px;color:#a3a3a1;font-weight:400;letter-spacing:0.000px;-webkit-text-stroke:0.1px #a3a3a1">19</div>
<div class="t " style="left:1906.43px;top:283.68px;font-size:24px;line-height:24px;color:#a3a3a1;font-weight:400;letter-spacing:0.000px;-webkit-text-stroke:0.1px #a3a3a1">20</div>
<div style="position:absolute;left:1052px;top:329px;width:2px;height:871px;background:#d44c3f"></div>
<div style="position:absolute;left:1046px;top:322px;width:14px;height:14px;border-radius:50%;background:#dc4b3e"></div>
<div class="t md" style="left:1072.30px;top:349.75px;font-size:29px;line-height:29px;color:#a7a7a5;font-weight:400;letter-spacing:0.000px;letter-spacing:-0.279px">Sign Contract</div>
<div class="card" style="left:1006px;top:336px;width:70px;height:56px"><div class="t md" style="left:66.30px;top:13.75px;font-size:29px;line-height:29px;color:#37352f;font-weight:400;letter-spacing:0.000px;letter-spacing:-0.279px">Sign Contract</div></div>
<svg style="position:absolute;left:1020px;top:344.7px;overflow:visible;" width="36" height="36" viewBox="0 0 36 36"><defs><linearGradient id="pg13" x1="0" y1="0" x2="0" y2="1"><stop offset="0" stop-color="#444"/><stop offset="0.45" stop-color="#151515"/><stop offset="1" stop-color="#000"/></linearGradient><linearGradient id="ng13" x1="0" y1="0" x2="0" y2="1"><stop offset="0" stop-color="#d8d8d8"/><stop offset="0.5" stop-color="#7a7a7a"/><stop offset="1" stop-color="#3a3a3a"/></linearGradient></defs><g transform="translate(5.5 5) rotate(44.5)"><path d="M0 -4 C-3.2 -4 -4.5 -1.8 -4.5 0 C-4.5 1.8 -3.2 4 0 4 L14 5 L28 4.4 L28 -4.4 L14 -5 Z" fill="url(#pg13)"/><path d="M2.5 -2.7 L25 -3.2" stroke="#fff" stroke-width="1.4" stroke-linecap="round"/><rect x="27.5" y="-4.4" width="2" height="8.8" fill="#4a4a4a"/><path d="M29.5 -3.9 L37 -2.6 L44 0 L37 2.6 L29.5 3.9 Z" fill="url(#ng13)"/><circle cx="35.5" cy="-0.6" r="1.2" fill="#fff"/><path d="M36.5 0.3 L43.5 0.1" stroke="#222" stroke-width="0.6"/></g></svg>
<div class="t md" style="left:1071.30px;top:415.75px;font-size:29px;line-height:29px;color:#a7a7a5;font-weight:400;letter-spacing:0.000px;letter-spacing:-0.171px">Deposit (1/3)</div>
<div class="card" style="left:1006px;top:402px;width:70px;height:56px"><div class="t md" style="left:65.30px;top:13.75px;font-size:29px;line-height:29px;color:#37352f;font-weight:400;letter-spacing:0.000px;letter-spacing:-0.171px">Deposit (1/3)</div></div>
<svg style="position:absolute;left:1020px;top:410.7px;overflow:visible;" width="36" height="36" viewBox="0 0 36 36"><defs><linearGradient id="rg14" x1="0" y1="0" x2="0" y2="1"><stop offset="0" stop-color="#f4f4f4"/><stop offset="1" stop-color="#e6e6e6"/></linearGradient></defs><rect x="7" y="1" width="27" height="35.6" fill="url(#rg14)" stroke="#e2e2e2" stroke-width="0.5"/><rect x="10.70" y="4.2" width="2.75" height="3.9" fill="#3f3f3f"/><rect x="13.67" y="4.2" width="2.75" height="3.9" fill="#3f3f3f"/><rect x="16.64" y="4.2" width="2.75" height="3.9" fill="#3f3f3f"/><rect x="19.61" y="4.2" width="2.75" height="3.9" fill="#3f3f3f"/><rect x="22.58" y="4.2" width="2.75" height="3.9" fill="#3f3f3f"/><rect x="25.55" y="4.2" width="2.75" height="3.9" fill="#3f3f3f"/><rect x="28.52" y="4.2" width="2.75" height="3.9" fill="#3f3f3f"/><rect x="10.5" y="9.3" width="21" height="1.4" fill="#777"/><rect x="17.5" y="12" width="6" height="1.2" fill="#888"/><rect x="8.6" y="17.6" width="9.2" height="1.6" fill="#555"/><rect x="28" y="17.8" width="5.6" height="1.6" fill="#666"/><rect x="8.6" y="21" width="8.5" height="1.4" fill="#8a8a8a"/><rect x="8.6" y="23" width="6.5" height="1.4" fill="#8a8a8a"/><rect x="28" y="23.4" width="5.6" height="1.6" fill="#777"/><rect x="8.6" y="26.8" width="8" height="1.4" fill="#999"/><rect x="8.6" y="28.8" width="8" height="1.4" fill="#999"/><rect x="28" y="29" width="5.6" height="1.6" fill="#777"/><rect x="28" y="33" width="5.6" height="1.6" fill="#888"/></svg>
<div class="card" style="left:1086px;top:468px;width:2390px;height:56px"><div class="t md" style="left:66.30px;top:13.75px;font-size:29px;line-height:29px;color:#37352f;font-weight:400;letter-spacing:0.000px;letter-spacing:-0.310px">Operations Audit</div></div>
<svg style="position:absolute;left:1100px;top:476.7px;overflow:visible;" width="36" height="36" viewBox="0 0 36 36"><path d="M21.5 1.4 L36.5 9.1 L18.5 16.8 L3.9 7.3 Z" fill="#d39358"/><path d="M3.9 7.3 L18.5 16.8 L18.9 35.5 L5.3 28.9 Z" fill="#c98249"/><path d="M36.5 9.1 L18.5 16.8 L18.9 35.5 L35.8 26.7 Z" fill="#8f5527"/><path d="M11.8 4.6 L15.3 3.5 L30.2 11.8 L30.2 16.2 L26.6 17.7 L26.6 13.3 Z" fill="#ead8bd"/><path d="M26.6 13.3 L30.2 11.8 L30.2 16.2 L26.6 17.7 Z" fill="#cdb08c"/><path d="M11.5 13.3 L16.3 16.4 L16.3 22 L11.5 18.9 Z" fill="#ece8e2" opacity="0.9"/><path d="M25.5 26.5 L29.5 24.6 L29.5 27 L25.5 28.9 Z" fill="#5e3516" opacity="0.75"/><path d="M18.5 16.8 L18.9 35.5" stroke="#7a461e" stroke-width="0.6" opacity="0.6"/></svg>
<div class="t md" style="left:1151.30px;top:547.75px;font-size:29px;line-height:29px;color:#a7a7a5;font-weight:400;letter-spacing:0.000px;letter-spacing:-0.083px">Kick-Off Team meeting</div>
<div class="card" style="left:1086px;top:534px;width:70px;height:56px"><div class="t md" style="left:65.30px;top:13.75px;font-size:29px;line-height:29px;color:#37352f;font-weight:400;letter-spacing:0.000px;letter-spacing:-0.083px">Kick-Off Team meeting</div></div>
<svg style="position:absolute;left:1100px;top:542.7px;overflow:visible;" width="36" height="36" viewBox="0 0 36 36"><defs><radialGradient id="bg16" cx="0.45" cy="0.42" r="0.6"><stop offset="0.75" stop-color="#ffffff"/><stop offset="1" stop-color="#d0d0d0"/></radialGradient><linearGradient id="tg16" x1="0" y1="0" x2="1" y2="0"><stop offset="0" stop-color="#a6a6a6"/><stop offset="1" stop-color="#c8c8c8"/></linearGradient></defs><path d="M6.2 23.5 Q8.5 30 5.9 36.6 Q12.5 34 16 28.8 Z" fill="url(#tg16)"/><ellipse cx="20.1" cy="15.9" rx="16.9" ry="14.3" fill="url(#bg16)" stroke="#c2c2c2" stroke-width="1.1"/><circle cx="14.3" cy="16.8" r="1.65" fill="#222"/><circle cx="20.2" cy="16.8" r="1.65" fill="#222"/><circle cx="26.2" cy="16.8" r="1.65" fill="#222"/></svg>
<div class="t md" style="left:1231.30px;top:613.75px;font-size:29px;line-height:29px;color:#a7a7a5;font-weight:400;letter-spacing:0.000px;letter-spacing:-0.449px">Processes Discussion</div>
<div class="card" style="left:1166px;top:600px;width:70px;height:56px"><div class="t md" style="left:65.30px;top:13.75px;font-size:29px;line-height:29px;color:#37352f;font-weight:400;letter-spacing:0.000px;letter-spacing:-0.449px">Processes Discussion</div></div>
<svg style="position:absolute;left:1180px;top:608.7px;overflow:visible;" width="36" height="36" viewBox="0 0 36 36"><defs><radialGradient id="bg17" cx="0.45" cy="0.42" r="0.6"><stop offset="0.75" stop-color="#ffffff"/><stop offset="1" stop-color="#d0d0d0"/></radialGradient><linearGradient id="tg17" x1="0" y1="0" x2="1" y2="0"><stop offset="0" stop-color="#a6a6a6"/><stop offset="1" stop-color="#c8c8c8"/></linearGradient></defs><path d="M6.2 23.5 Q8.5 30 5.9 36.6 Q12.5 34 16 28.8 Z" fill="url(#tg17)"/><ellipse cx="20.1" cy="15.9" rx="16.9" ry="14.3" fill="url(#bg17)" stroke="#c2c2c2" stroke-width="1.1"/><circle cx="14.3" cy="16.8" r="1.65" fill="#222"/><circle cx="20.2" cy="16.8" r="1.65" fill="#222"/><circle cx="26.2" cy="16.8" r="1.65" fill="#222"/></svg>
<div class="t md" style="left:1393.30px;top:679.75px;font-size:29px;line-height:29px;color:#a7a7a5;font-weight:400;letter-spacing:0.000px;letter-spacing:-0.567px">Team Sprint</div>
<div class="card" style="left:1326px;top:666px;width:150px;height:56px"><div class="t md" style="left:67.30px;top:13.75px;font-size:29px;line-height:29px;color:#37352f;font-weight:400;letter-spacing:0.000px;letter-spacing:-0.567px">Team Sprint</div></div>
<svg style="position:absolute;left:1340px;top:674.7px;overflow:visible;" width="36" height="36" viewBox="0 0 36 36"><defs><radialGradient id="bg18" cx="0.45" cy="0.42" r="0.6"><stop offset="0.75" stop-color="#ffffff"/><stop offset="1" stop-color="#d0d0d0"/></radialGradient><linearGradient id="tg18" x1="0" y1="0" x2="1" y2="0"><stop offset="0" stop-color="#a6a6a6"/><stop offset="1" stop-color="#c8c8c8"/></linearGradient></defs><path d="M6.2 23.5 Q8.5 30 5.9 36.6 Q12.5 34 16 28.8 Z" fill="url(#tg18)"/><ellipse cx="20.1" cy="15.9" rx="16.9" ry="14.3" fill="url(#bg18)" stroke="#c2c2c2" stroke-width="1.1"/><circle cx="14.3" cy="16.8" r="1.65" fill="#222"/><circle cx="20.2" cy="16.8" r="1.65" fill="#222"/><circle cx="26.2" cy="16.8" r="1.65" fill="#222"/></svg>
<div class="card" style="left:1486px;top:732px;width:2390px;height:56px"><div class="t md" style="left:66.30px;top:13.75px;font-size:29px;line-height:29px;color:#37352f;font-weight:400;letter-spacing:0.000px;letter-spacing:-0.316px">Optimized Workspace</div></div>
<svg style="position:absolute;left:1500px;top:740.7px;overflow:visible;" width="36" height="36" viewBox="0 0 36 36"><path d="M21.5 1.4 L36.5 9.1 L18.5 16.8 L3.9 7.3 Z" fill="#d39358"/><path d="M3.9 7.3 L18.5 16.8 L18.9 35.5 L5.3 28.9 Z" fill="#c98249"/><path d="M36.5 9.1 L18.5 16.8 L18.9 35.5 L35.8 26.7 Z" fill="#8f5527"/><path d="M11.8 4.6 L15.3 3.5 L30.2 11.8 L30.2 16.2 L26.6 17.7 L26.6 13.3 Z" fill="#ead8bd"/><path d="M26.6 13.3 L30.2 11.8 L30.2 16.2 L26.6 17.7 Z" fill="#cdb08c"/><path d="M11.5 13.3 L16.3 16.4 L16.3 22 L11.5 18.9 Z" fill="#ece8e2" opacity="0.9"/><path d="M25.5 26.5 L29.5 24.6 L29.5 27 L25.5 28.9 Z" fill="#5e3516" opacity="0.75"/><path d="M18.5 16.8 L18.9 35.5" stroke="#7a461e" stroke-width="0.6" opacity="0.6"/></svg>
<div style="position:absolute;left:1874px;top:482px;width:28px;height:28px;border-radius:4px;background:#acaca9"></div>
<svg style="position:absolute;left:1874px;top:482px;" width="28" height="28" viewBox="0 0 28 28"><path d="M6.5 14 H21 M15.5 8.5 L21 14 L15.5 19.5" fill="none" stroke="#fff" stroke-width="2.4" stroke-linecap="round" stroke-linejoin="round"/></svg>
<div style="position:absolute;left:1874px;top:746px;width:28px;height:28px;border-radius:4px;background:#acaca9"></div>
<svg style="position:absolute;left:1874px;top:746px;" width="28" height="28" viewBox="0 0 28 28"><path d="M6.5 14 H21 M15.5 8.5 L21 14 L15.5 19.5" fill="none" stroke="#fff" stroke-width="2.4" stroke-linecap="round" stroke-linejoin="round"/></svg>
<div style="position:absolute;left:1874px;top:812px;width:28px;height:28px;border-radius:4px;background:#acaca9"></div>
<svg style="position:absolute;left:1874px;top:812px;" width="28" height="28" viewBox="0 0 28 28"><path d="M6.5 14 H21 M15.5 8.5 L21 14 L15.5 19.5" fill="none" stroke="#fff" stroke-width="2.4" stroke-linecap="round" stroke-linejoin="round"/></svg>
<div style="position:absolute;left:1874px;top:878px;width:28px;height:28px;border-radius:4px;background:#acaca9"></div>
<svg style="position:absolute;left:1874px;top:878px;" width="28" height="28" viewBox="0 0 28 28"><path d="M6.5 14 H21 M15.5 8.5 L21 14 L15.5 19.5" fill="none" stroke="#fff" stroke-width="2.4" stroke-linecap="round" stroke-linejoin="round"/></svg>
<div style="position:absolute;left:1874px;top:944px;width:28px;height:28px;border-radius:4px;background:#acaca9"></div>
<svg style="position:absolute;left:1874px;top:944px;" width="28" height="28" viewBox="0 0 28 28"><path d="M6.5 14 H21 M15.5 8.5 L21 14 L15.5 19.5" fill="none" stroke="#fff" stroke-width="2.4" stroke-linecap="round" stroke-linejoin="round"/></svg>
<div style="position:absolute;left:1874px;top:1010px;width:28px;height:28px;border-radius:4px;background:#acaca9"></div>
<svg style="position:absolute;left:1874px;top:1010px;" width="28" height="28" viewBox="0 0 28 28"><path d="M6.5 14 H21 M15.5 8.5 L21 14 L15.5 19.5" fill="none" stroke="#fff" stroke-width="2.4" stroke-linecap="round" stroke-linejoin="round"/></svg>
<div style="position:absolute;left:1874px;top:1076px;width:28px;height:28px;border-radius:4px;background:#acaca9"></div>
<svg style="position:absolute;left:1874px;top:1076px;" width="28" height="28" viewBox="0 0 28 28"><path d="M6.5 14 H21 M15.5 8.5 L21 14 L15.5 19.5" fill="none" stroke="#fff" stroke-width="2.4" stroke-linecap="round" stroke-linejoin="round"/></svg>
<div style="position:absolute;left:1874px;top:1142px;width:28px;height:28px;border-radius:4px;background:#acaca9"></div>
<svg style="position:absolute;left:1874px;top:1142px;" width="28" height="28" viewBox="0 0 28 28"><path d="M6.5 14 H21 M15.5 8.5 L21 14 L15.5 19.5" fill="none" stroke="#fff" stroke-width="2.4" stroke-linecap="round" stroke-linejoin="round"/></svg>
<div style="position:absolute;left:1815px;top:1095px;width:74px;height:74px;border-radius:50%;background:#fff;box-shadow:0 0 0 2px rgba(15,15,15,0.08),0 4px 12px rgba(15,15,15,0.08)"></div>
<div class="t " style="left:1841.80px;top:1112.14px;font-size:40px;line-height:40px;color:#37352f;font-weight:400;letter-spacing:0.000px;-webkit-text-stroke:1.2px #37352f">?</div>
</body></html>
